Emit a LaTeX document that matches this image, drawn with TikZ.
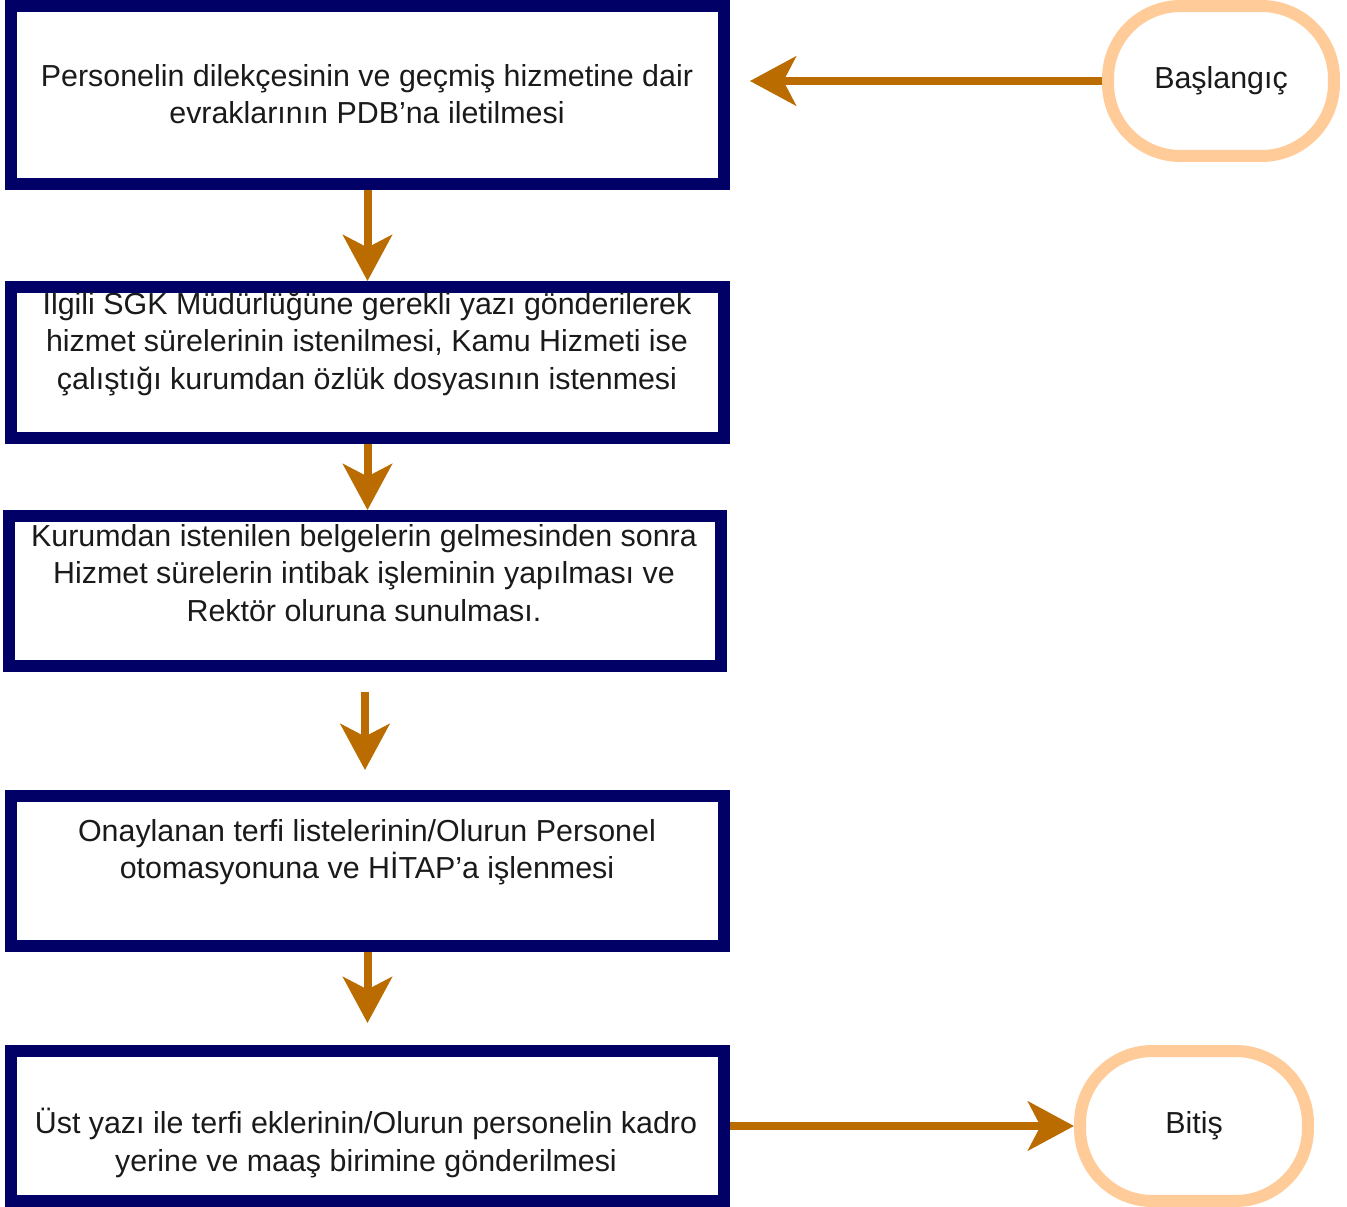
\documentclass[tikz,border=0pt]{standalone}
\usepackage{fontspec}
\setmainfont{Liberation Sans}
\usetikzlibrary{arrows.meta,positioning}
\definecolor{boxblue}{HTML}{000066}
\definecolor{peach}{HTML}{FFCC99}
\definecolor{brn}{HTML}{BA6C00}
\definecolor{ink}{HTML}{1A1A1A}
\tikzset{
  stepbox/.style={draw=boxblue,line width=0.24cm,fill=white,inner sep=0pt,minimum width=14.26cm},
  txt/.style={align=center,text=ink,font=\fontsize{17.3pt}{21.3pt}\selectfont,inner sep=0pt},
  term/.style={draw=peach,line width=0.24cm,fill=white,rounded corners=1.45cm,minimum height=3cm,txt},
  ar/.style={draw=brn,line width=0.16cm,-{Stealth[length=0.92cm,width=0.98cm,inset=0.25cm]}},
}

\begin{document}
\begin{tikzpicture}[x=0.02cm,y=-0.02cm]
\useasboundingbox (0,0) rectangle (1347,1207);
\node[stepbox,minimum height=3.56cm] (b1) at (367.5,95) {};
\node[stepbox,minimum height=3.02cm] (b2) at (367.5,362.5) {};
\node[stepbox,minimum height=3cm] (b3) at (365,591) {};
\node[stepbox,minimum height=3cm] (b4) at (367.5,871) {};
\node[stepbox,minimum height=3cm] (b5) at (367.5,1126) {};
\node[term,minimum width=4.52cm] (s) at (1221,81) {Başlangıç};
\node[term,minimum width=4.56cm] (e) at (1194,1126) {Bitiş};

\node[txt] (t1) at (367,94) {Personelin dilekçesinin ve geçmiş hizmetine dair\\evraklarının PDB’na iletilmesi};
\node[txt] (t2) at (367,344) {Ilgili SGK Müdürlüğüne gerekli yazı gönderilerek\\hizmet sürelerinin istenilmesi, Kamu Hizmeti ise\\çalıştığı kurumdan özlük dosyasının istenmesi};
\node[txt] (t3) at (364,573) {Kurumdan istenilen belgelerin gelmesinden sonra\\Hizmet sürelerin intibak işleminin yapılması ve\\Rektör oluruna sunulması.};
\node[txt] (t4) at (367,852) {Onaylanan terfi listelerinin/Olurun Personel\\otomasyonuna ve HİTAP’a işlenmesi};
\node[txt] (t5) at (366,1143) {Üst yazı ile terfi eklerinin/Olurun personelin kadro\\yerine ve maaş birimine gönderilmesi};

\draw[ar,shorten >=0.4cm] (s.west) -- (s.west -| b1.east);
\draw[ar] (b1.south) -- (b2.north);
\draw[ar] (b2.south) -- (b2.south |- b3.north);
\draw[ar,shorten <=0.4cm,shorten >=0.4cm] (b3.south) -- (b3.south |- b4.north);
\draw[ar,shorten >=0.44cm] (b4.south) -- (b5.north);
\draw[ar] (b5.east) -- (e.west);
\end{tikzpicture}
\end{document}
